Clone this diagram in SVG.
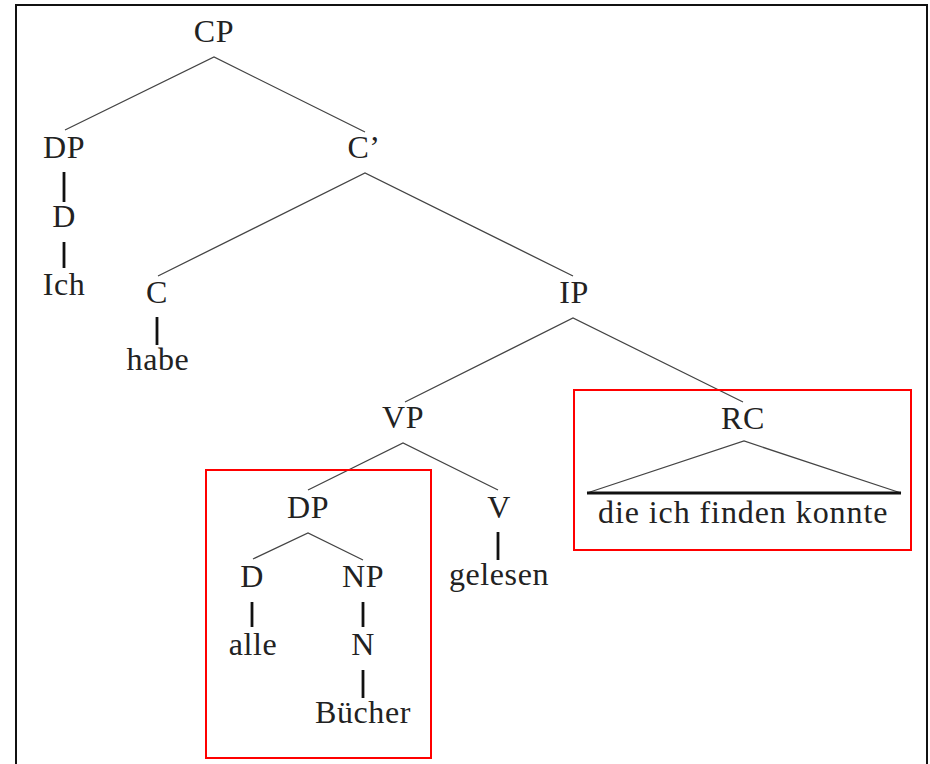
<svg xmlns="http://www.w3.org/2000/svg" width="930" height="764" viewBox="0 0 930 764">
<style>
text{font-family:"Liberation Serif","DejaVu Serif","Times New Roman",serif;font-size:32px;fill:#222;text-anchor:middle;letter-spacing:0.6px}
.e{stroke:#444;stroke-width:1.3;fill:none}
.b{stroke:#111;stroke-width:2.8;fill:none}
.red{stroke:#f00;stroke-width:2;fill:none}
</style>
<rect x="0" y="0" width="930" height="764" fill="#fff"/>
<rect x="16" y="5" width="911" height="780" fill="none" stroke="#111" stroke-width="2"/>
<g id="connectors">
<polyline class="e" points="65,130 214,57 365,132"/>
<polyline class="e" points="158,276 365,173 573,276"/>
<polyline class="e" points="405,402 573,318 743,402"/>
<polyline class="e" points="308,490 403,443 498,490"/>
<polyline class="e" points="253,559 308,533 363,560"/>
<polyline class="e" points="587,493 744,441 901,493"/>
<line class="b" x1="587" y1="493" x2="901" y2="493"/>
<line class="b" x1="64" y1="172" x2="64" y2="202"/>
<line class="b" x1="64" y1="242" x2="64" y2="268"/>
<line class="b" x1="157" y1="317" x2="157" y2="345"/>
<line class="b" x1="498" y1="532" x2="498" y2="560"/>
<line class="b" x1="252" y1="602" x2="252" y2="627"/>
<line class="b" x1="363" y1="602" x2="363" y2="627"/>
<line class="b" x1="363" y1="670" x2="363" y2="698"/>
</g>
<g id="n-cp"><text x="214" y="42">CP</text></g>
<g id="n-dp1"><text x="64" y="158">DP</text></g>
<g id="n-cbar"><text x="364" y="158">C’</text></g>
<g id="n-d1"><text x="64" y="227">D</text></g>
<g id="n-ich"><text x="64" y="295">Ich</text></g>
<g id="n-c"><text x="157" y="303">C</text></g>
<g id="n-habe"><text x="158" y="370">habe</text></g>
<g id="n-ip"><text x="574" y="303">IP</text></g>
<g id="n-vp"><text x="403" y="428">VP</text></g>
<g id="n-rc"><text x="743" y="429">RC</text></g>
<g id="n-rctext"><text x="743" y="523" textLength="290" lengthAdjust="spacing">die ich finden konnte</text></g>
<g id="n-dp2"><text x="308" y="518">DP</text></g>
<g id="n-v"><text x="499" y="518">V</text></g>
<g id="n-gelesen"><text x="499" y="585">gelesen</text></g>
<g id="n-d2"><text x="252" y="587">D</text></g>
<g id="n-np"><text x="363" y="587">NP</text></g>
<g id="n-alle"><text x="253" y="655">alle</text></g>
<g id="n-n"><text x="363" y="655">N</text></g>
<g id="n-buecher"><text x="363" y="723">Bücher</text></g>
<g id="highlights">
<rect class="red" x="206" y="470" width="225" height="288"/>
<rect class="red" x="574" y="390" width="337" height="160"/>
</g>
</svg>
